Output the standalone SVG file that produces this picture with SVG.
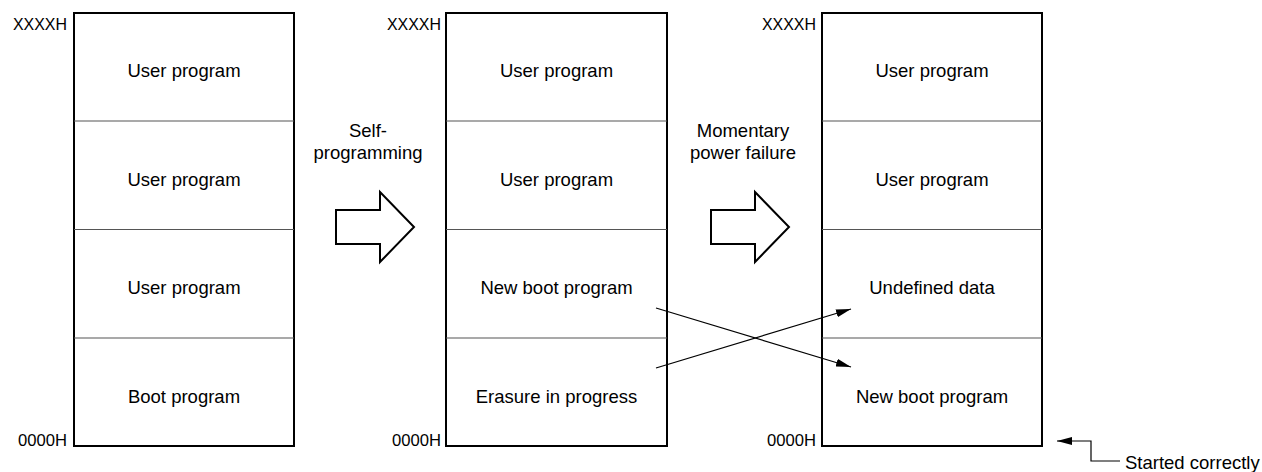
<svg xmlns="http://www.w3.org/2000/svg" width="1262" height="472" viewBox="0 0 1262 472">
<style>
text{font-family:"Liberation Sans",Arial,sans-serif;fill:#000}
.t{font-size:18.5px;text-anchor:middle}
.a{font-size:16px;text-anchor:end}
.box{fill:#fff;stroke:#000;stroke-width:2}
.div{stroke:#555;stroke-width:1.2}
.big{fill:#fff;stroke:#000;stroke-width:2;stroke-linejoin:miter}
.ln{stroke:#000;stroke-width:1.2;fill:none}
</style>
<defs>
<marker id="ah" viewBox="0 0 15 8" refX="15" refY="4" markerWidth="15" markerHeight="8" markerUnits="userSpaceOnUse" orient="auto">
<path d="M0,0 L15,4 L0,8 Z" fill="#000"/>
</marker>
</defs>
<g id="mem1">
<rect class="box" x="74" y="13" width="220" height="433"/>
<line class="div" x1="74" y1="121" x2="294" y2="121"/>
<line class="div" x1="74" y1="229.5" x2="294" y2="229.5"/>
<line class="div" x1="74" y1="338" x2="294" y2="338"/>
<text class="t" x="184" y="77">User program</text>
<text class="t" x="184" y="186">User program</text>
<text class="t" x="184" y="294">User program</text>
<text class="t" x="184" y="403">Boot program</text>
<text class="a" x="67" y="30" textLength="54" lengthAdjust="spacingAndGlyphs">XXXXH</text>
<text class="a" x="67" y="446" textLength="49" lengthAdjust="spacingAndGlyphs">0000H</text>
</g>
<g id="mem2">
<rect class="box" x="446" y="13" width="221" height="433"/>
<line class="div" x1="446" y1="121" x2="667" y2="121"/>
<line class="div" x1="446" y1="229.5" x2="667" y2="229.5"/>
<line class="div" x1="446" y1="338" x2="667" y2="338"/>
<text class="t" x="556.5" y="77">User program</text>
<text class="t" x="556.5" y="186">User program</text>
<text class="t" x="556.5" y="294">New boot program</text>
<text class="t" x="556.5" y="403">Erasure in progress</text>
<text class="a" x="441" y="30" textLength="54" lengthAdjust="spacingAndGlyphs">XXXXH</text>
<text class="a" x="441" y="446" textLength="49" lengthAdjust="spacingAndGlyphs">0000H</text>
</g>
<g id="mem3">
<rect class="box" x="822" y="13" width="220" height="433"/>
<line class="div" x1="822" y1="121" x2="1042" y2="121"/>
<line class="div" x1="822" y1="229.5" x2="1042" y2="229.5"/>
<line class="div" x1="822" y1="338" x2="1042" y2="338"/>
<text class="t" x="932" y="77">User program</text>
<text class="t" x="932" y="186">User program</text>
<text class="t" x="932" y="294">Undefined data</text>
<text class="t" x="932" y="403">New boot program</text>
<text class="a" x="816" y="30" textLength="54" lengthAdjust="spacingAndGlyphs">XXXXH</text>
<text class="a" x="816" y="446" textLength="49" lengthAdjust="spacingAndGlyphs">0000H</text>
</g>
<g id="step1">
<path class="big" d="M336,210 L380,210 L380,192 L414,227 L380,262 L380,244 L336,244 Z"/>
<text class="t" x="368" y="137">Self-</text>
<text class="t" x="368" y="159">programming</text>
</g>
<g id="step2">
<path class="big" d="M711,210 L755,210 L755,192 L789,227 L755,262 L755,244 L711,244 Z"/>
<text class="t" x="743" y="137">Momentary</text>
<text class="t" x="743" y="159">power failure</text>
</g>
<g id="connectors">
<line class="ln" x1="656" y1="308" x2="851" y2="367" marker-end="url(#ah)"/>
<line class="ln" x1="656" y1="368" x2="851" y2="309" marker-end="url(#ah)"/>
<polyline class="ln" points="1120,461 1091,461 1091,441 1057,441" marker-end="url(#ah)"/>
</g>
<g id="note">
<text x="1125" y="469" style="font-size:18.5px">Started correctly</text>
</g>
</svg>
